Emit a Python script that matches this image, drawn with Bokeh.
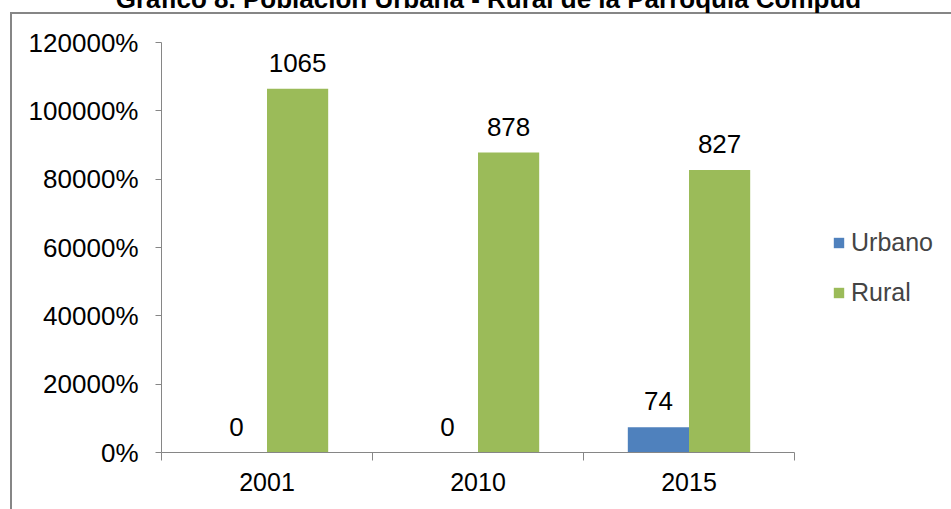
from bokeh.plotting import figure
from bokeh.models import (ColumnDataSource, Range1d, LinearAxis,
                          FixedTicker, NumeralTickFormatter, LabelSet, Legend, LegendItem, Label)
from bokeh.core.properties import value
from bokeh.embed import file_html
from bokeh.resources import INLINE

# ---- data ----
title_text = "Gráfico 8. Población Urbana - Rural de la Parroquia Compud"
years = ["2001", "2010", "2015"]
series_names = ["Urbano", "Rural"]
urbano = [0, 0, 74]
rural = [1065, 878, 827]
y_ticks = [0, 200, 400, 600, 800, 1000, 1200]

BLUE = "#4F81BD"
GREEN = "#9BBB59"
GRAY = "#868686"
FONT = "Liberation Sans"
BAR_W = 0.29

centers = [i + 0.5 for i in range(len(years))]
src = ColumnDataSource(dict(
    xu=[c - BAR_W / 2 for c in centers],
    xr=[c + BAR_W / 2 for c in centers],
    urbano=urbano,
    rural=rural,
    urbano_lbl=[str(v) for v in urbano],
    rural_lbl=[str(v) for v in rural],
))

p = figure(x_range=Range1d(0, len(years)), y_range=Range1d(0, 1200),
           frame_width=633, frame_height=410,
           min_border_left=161, min_border_right=157, min_border_top=42, min_border_bottom=57,
           output_backend="svg", toolbar_location=None,
           x_axis_location=None, y_axis_location=None)
p.outline_line_color = None
p.background_fill_color = "white"
p.border_fill_color = None
p.xgrid.visible = False
p.ygrid.visible = False
# outer chart-area frame of the original (top and left edges visible)
p.styles = {
    "background-color": "white",
    "background-image": ("linear-gradient(#868686, #868686), "
                         "linear-gradient(#868686, #868686)"),
    "background-size": "100% 2px, 2px 100%",
    "background-position": "10px 12px, 10px 12px",
    "background-repeat": "no-repeat, no-repeat",
}

# y axis
yax = LinearAxis(ticker=FixedTicker(ticks=y_ticks), formatter=NumeralTickFormatter(format="0%"))
yax.axis_line_color = GRAY
yax.major_tick_line_color = GRAY
yax.major_tick_out = 6
yax.major_tick_in = 0
yax.minor_tick_line_color = None
yax.major_label_standoff = 17
yax.major_label_text_font = FONT
yax.major_label_text_font_size = "26px"
yax.major_label_text_color = "black"
p.add_layout(yax, "left")

# x axis: boundary ticks between categories
tax = LinearAxis(ticker=FixedTicker(ticks=list(range(len(years) + 1))))
tax.axis_line_color = GRAY
tax.major_tick_line_color = GRAY
tax.major_tick_out = 8
tax.major_tick_in = 0
tax.minor_tick_line_color = None
tax.major_label_text_alpha = 0
tax.major_label_text_font_size = "1px"
tax.major_label_standoff = 0
p.add_layout(tax, "below")

# x axis: category labels
cax = LinearAxis(ticker=FixedTicker(ticks=centers),
                 major_label_overrides={c: y for c, y in zip(centers, years)})
cax.axis_line_color = None
cax.major_tick_line_color = None
cax.minor_tick_line_color = None
cax.major_label_standoff = 6
cax.major_label_text_font = FONT
cax.major_label_text_font_size = "25px"
cax.major_label_text_color = "black"
p.add_layout(cax, "below")

# bars
r_u = p.vbar(x="xu", top="urbano", width=BAR_W, color=BLUE, line_color=None, source=src)
r_r = p.vbar(x="xr", top="rural", width=BAR_W, color=GREEN, line_color=None, source=src)

for xcol, col, lbl in (("xu", "urbano", "urbano_lbl"), ("xr", "rural", "rural_lbl")):
    ls = LabelSet(x=xcol, y=col, text=lbl, source=src,
                  y_offset=17, text_align="center", text_baseline="alphabetic",
                  text_font=value(FONT), text_font_size=value("26px"), text_color="black")
    p.add_layout(ls)

legend = Legend(items=[LegendItem(label=series_names[0], renderers=[r_u]),
                       LegendItem(label=series_names[1], renderers=[r_r])],
                location=(38, 145), orientation="vertical",
                glyph_width=13, glyph_height=13, label_standoff=6, spacing=20,
                padding=0, margin=0, border_line_color=None, background_fill_alpha=0,
                label_text_font=FONT, label_text_font_size="25px", label_height=30)
p.add_layout(legend, "right")

# title (cut off at the top in the original): placed in the panel above the frame
title = Label(x=327, y=44, x_units="screen", y_units="screen", text=title_text,
              text_align="center", text_baseline="alphabetic",
              text_font=FONT, text_font_size="26px", text_font_style="bold", text_color="black")
p.add_layout(title, "above")

open("out.html", "w").write(file_html(p, INLINE))
